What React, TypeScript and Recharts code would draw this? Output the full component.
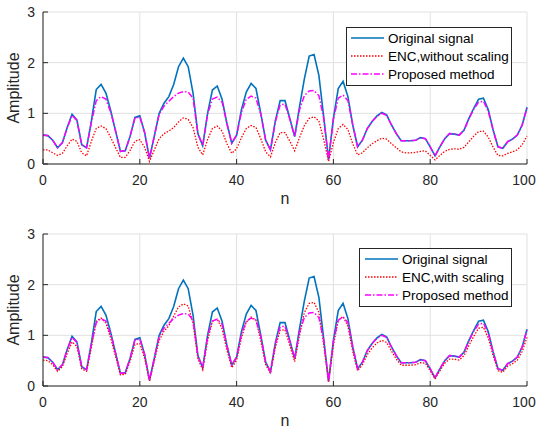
import { LineChart, Line, XAxis, YAxis, CartesianGrid, Legend } from 'recharts'

// amplitude per sample, n = 0..100
const ORIGINAL = [
  0.57, 0.56, 0.47, 0.32, 0.42, 0.72, 0.98, 0.87, 0.38, 0.32,
  0.85, 1.47, 1.57, 1.40, 1.05, 0.65, 0.25, 0.26, 0.55, 0.92,
  0.95, 0.62, 0.11, 0.55, 1.00, 1.20, 1.33, 1.57, 1.92, 2.09,
  1.92, 1.40, 0.60, 0.36, 1.00, 1.46, 1.54, 1.28, 0.80, 0.41,
  0.57, 1.07, 1.42, 1.59, 1.49, 1.00, 0.47, 0.28, 0.85, 1.25,
  1.25, 0.90, 0.54, 1.13, 1.68, 2.13, 2.16, 1.75, 0.93, 0.09,
  0.90, 1.49, 1.63, 1.33, 0.77, 0.34, 0.47, 0.70, 0.84, 0.95,
  1.02, 0.97, 0.77, 0.60, 0.46, 0.46, 0.46, 0.47, 0.52, 0.50,
  0.34, 0.16, 0.34, 0.50, 0.60, 0.59, 0.57, 0.67, 0.90, 1.10,
  1.28, 1.30, 1.07, 0.67, 0.34, 0.31, 0.44, 0.49, 0.57, 0.77,
  1.12,
]

const ENC_NO_SCALING = [
  0.28, 0.28, 0.22, 0.17, 0.21, 0.36, 0.49, 0.45, 0.22, 0.16,
  0.45, 0.70, 0.75, 0.70, 0.52, 0.32, 0.13, 0.13, 0.27, 0.45,
  0.48, 0.33, 0.05, 0.28, 0.50, 0.60, 0.65, 0.72, 0.83, 0.91,
  0.88, 0.72, 0.33, 0.18, 0.48, 0.70, 0.75, 0.65, 0.40, 0.21,
  0.30, 0.52, 0.70, 0.76, 0.72, 0.50, 0.24, 0.14, 0.42, 0.62,
  0.62, 0.45, 0.26, 0.52, 0.76, 0.90, 0.93, 0.85, 0.48, 0.05,
  0.42, 0.70, 0.78, 0.68, 0.40, 0.18, 0.22, 0.32, 0.40, 0.46,
  0.51, 0.49, 0.40, 0.32, 0.24, 0.22, 0.22, 0.23, 0.25, 0.26,
  0.17, 0.08, 0.17, 0.25, 0.29, 0.30, 0.29, 0.33, 0.44, 0.55,
  0.64, 0.65, 0.53, 0.33, 0.17, 0.16, 0.21, 0.24, 0.28, 0.38,
  0.55,
]

const ENC_SCALING = [
  0.51, 0.50, 0.42, 0.29, 0.38, 0.64, 0.87, 0.78, 0.34, 0.29,
  0.76, 1.28, 1.34, 1.24, 0.94, 0.58, 0.22, 0.23, 0.49, 0.82,
  0.84, 0.55, 0.10, 0.49, 0.90, 1.08, 1.19, 1.38, 1.56, 1.62,
  1.58, 1.24, 0.54, 0.32, 0.89, 1.28, 1.32, 1.13, 0.71, 0.36,
  0.51, 0.95, 1.26, 1.36, 1.30, 0.89, 0.42, 0.25, 0.76, 1.10,
  1.11, 0.80, 0.48, 1.00, 1.45, 1.63, 1.65, 1.45, 0.82, 0.08,
  0.80, 1.30, 1.37, 1.18, 0.68, 0.30, 0.42, 0.62, 0.75, 0.85,
  0.90, 0.86, 0.69, 0.53, 0.41, 0.41, 0.41, 0.42, 0.46, 0.45,
  0.30, 0.14, 0.30, 0.45, 0.53, 0.53, 0.51, 0.60, 0.80, 0.98,
  1.14, 1.16, 0.95, 0.60, 0.30, 0.27, 0.39, 0.44, 0.51, 0.68,
  0.96,
]

const PROPOSED = [
  0.57, 0.56, 0.47, 0.32, 0.42, 0.71, 0.96, 0.86, 0.38, 0.32,
  0.82, 1.25, 1.33, 1.28, 1.02, 0.65, 0.25, 0.26, 0.55, 0.91,
  0.93, 0.62, 0.11, 0.55, 0.98, 1.14, 1.24, 1.33, 1.40, 1.43,
  1.42, 1.30, 0.60, 0.36, 0.98, 1.28, 1.32, 1.22, 0.80, 0.41,
  0.57, 1.02, 1.28, 1.34, 1.30, 0.98, 0.47, 0.28, 0.83, 1.17,
  1.18, 0.88, 0.54, 1.07, 1.35, 1.44, 1.45, 1.35, 0.90, 0.09,
  0.88, 1.30, 1.36, 1.25, 0.77, 0.34, 0.47, 0.70, 0.84, 0.94,
  1.00, 0.96, 0.77, 0.60, 0.46, 0.46, 0.46, 0.47, 0.52, 0.50,
  0.34, 0.16, 0.34, 0.50, 0.60, 0.59, 0.57, 0.67, 0.89, 1.08,
  1.22, 1.24, 1.04, 0.67, 0.34, 0.31, 0.44, 0.49, 0.57, 0.77,
  1.10,
]

const X_TICKS = [0, 20, 40, 60, 80, 100]
const Y_TICKS = [0, 1, 2, 3]

const AXIS = '#262626'
const FONT = '"Liberation Sans", Arial, sans-serif'

const data = ORIGINAL.map((v, i) => ({
  n: i,
  orig: v,
  encNo: ENC_NO_SCALING[i],
  encSc: ENC_SCALING[i],
  prop: PROPOSED[i],
}))

const DASH: Record<string, string | undefined> = {
  orig: undefined,
  encNo: '1.5 1.5',
  encSc: '1.5 1.5',
  prop: '6 2 1.5 2',
}

// legend keeps the plotting order
const LEGEND_ORDER = ['orig', 'encNo', 'encSc', 'prop']

function BottomTick({ x, y, payload }: any) {
  // last label sits on the window edge, nudge it in a bit
  const dx = payload.value === 100 ? -3 : 0
  return (
    <g>
      <line x1={x} y1={y} x2={x} y2={y - 5} stroke={AXIS} />
      <text x={x + dx} y={y + 21} textAnchor="middle" fontSize={14} fill={AXIS} fontFamily={FONT}>
        {payload.value}
      </text>
    </g>
  )
}

function TopTick({ x, y }: any) {
  return <line x1={x} y1={y} x2={x} y2={y + 5} stroke={AXIS} />
}

function LeftTick({ x, y, payload }: any) {
  return (
    <g>
      <line x1={x} y1={y} x2={x + 5} y2={y} stroke={AXIS} />
      <text x={x - 8} y={y + 5} textAnchor="end" fontSize={14} fill={AXIS} fontFamily={FONT}>
        {payload.value}
      </text>
    </g>
  )
}

function RightTick({ x, y }: any) {
  return <line x1={x} y1={y} x2={x - 5} y2={y} stroke={AXIS} />
}

function YLabel({ viewBox }: any) {
  const cx = viewBox.x + 19
  const cy = viewBox.y + viewBox.height / 2
  return (
    <text
      x={cx}
      y={cy}
      transform={`rotate(-90, ${cx}, ${cy})`}
      textAnchor="middle"
      fontSize={16}
      fill={AXIS}
      fontFamily={FONT}
    >
      Amplitude
    </text>
  )
}

function LegendBox({ payload, sampleLeft, sampleLen }: any) {
  const items = [...(payload || [])].sort(
    (a: any, b: any) => LEGEND_ORDER.indexOf(a.dataKey) - LEGEND_ORDER.indexOf(b.dataKey)
  )
  return (
    <div
      style={{
        border: `1px solid ${AXIS}`,
        background: '#fff',
        padding: '1px 0 2px 0',
        fontFamily: FONT,
        fontSize: 13.5,
        color: '#000',
      }}
    >
      {items.map((entry: any) => (
        <div key={entry.value} style={{ display: 'flex', alignItems: 'center', height: 18 }}>
          <svg width={sampleLeft + sampleLen + 4} height={18} style={{ flex: 'none' }}>
            <line
              x1={sampleLeft}
              y1={9}
              x2={sampleLeft + sampleLen}
              y2={9}
              stroke={entry.color}
              strokeWidth={entry.dataKey === 'orig' ? 1.6 : 1.4}
              strokeDasharray={DASH[entry.dataKey as string]}
            />
          </svg>
          <span style={{ whiteSpace: 'nowrap' }}>{entry.value}</span>
        </div>
      ))}
    </div>
  )
}

interface PanelProps {
  top: number
  encKey: 'encNo' | 'encSc'
  encName: string
  legendLeft: number
  legendTop: number
  legendWidth: number
  sampleLeft: number
}

function Panel({ top, encKey, encName, legendLeft, legendTop, legendWidth, sampleLeft }: PanelProps) {
  return (
    <div style={{ position: 'absolute', left: 0, top }}>
      <LineChart width={537} height={216} data={data} margin={{ top: 12, right: 10, bottom: 22, left: 0 }}>
        <CartesianGrid stroke="#e1e1e1" strokeWidth={1} />
        <XAxis
          dataKey="n"
          type="number"
          domain={[0, 100]}
          ticks={X_TICKS}
          height={30}
          stroke={AXIS}
          tickSize={0}
          tickMargin={0}
          tick={<BottomTick />}
          interval={0}
          label={{ value: 'n', position: 'bottom', offset: -1, fontSize: 16, fill: AXIS, fontFamily: FONT }}
        />
        <XAxis
          xAxisId="t"
          orientation="top"
          dataKey="n"
          type="number"
          domain={[0, 100]}
          ticks={X_TICKS}
          height={0}
          stroke={AXIS}
          tickSize={0}
          tickMargin={0}
          tick={<TopTick />}
          interval={0}
        />
        <YAxis
          type="number"
          domain={[0, 3]}
          ticks={Y_TICKS}
          width={43}
          stroke={AXIS}
          tickSize={0}
          tickMargin={0}
          tick={<LeftTick />}
          interval={0}
          label={<YLabel />}
        />
        <YAxis
          yAxisId="r"
          orientation="right"
          type="number"
          domain={[0, 3]}
          ticks={Y_TICKS}
          width={0}
          stroke={AXIS}
          tickSize={0}
          tickMargin={0}
          tick={<RightTick />}
          interval={0}
        />
        <Legend
          layout="vertical"
          align="center"
          verticalAlign="middle"
          wrapperStyle={{ left: legendLeft, top: legendTop, width: legendWidth }}
          content={(props: any) => <LegendBox payload={props.payload} sampleLeft={sampleLeft} sampleLen={33} />}
        />
        <Line
          dataKey="orig"
          name="Original signal"
          type="linear"
          stroke="#0072BD"
          strokeWidth={1.6}
          dot={false}
          isAnimationActive={false}
        />
        <Line
          dataKey={encKey}
          name={encName}
          type="linear"
          stroke="#FF0000"
          strokeWidth={1.3}
          strokeDasharray={DASH[encKey]}
          dot={false}
          isAnimationActive={false}
        />
        <Line
          dataKey="prop"
          name="Proposed method"
          type="linear"
          stroke="#FF00FF"
          strokeWidth={1.5}
          strokeDasharray={DASH.prop}
          dot={false}
          isAnimationActive={false}
        />
      </LineChart>
    </div>
  )
}

export default function App() {
  return (
    <div
      style={{
        position: 'absolute',
        left: 0,
        top: 0,
        width: 537,
        height: 432,
        overflow: 'hidden',
        background: '#fff',
      }}
    >
      <Panel
        top={0}
        encKey="encNo"
        encName="ENC,without scaling"
        legendLeft={346}
        legendTop={27}
        legendWidth={166}
        sampleLeft={4}
      />
      <Panel
        top={222}
        encKey="encSc"
        encName="ENC,with scaling"
        legendLeft={359}
        legendTop={26}
        legendWidth={153}
        sampleLeft={5}
      />
    </div>
  )
}
